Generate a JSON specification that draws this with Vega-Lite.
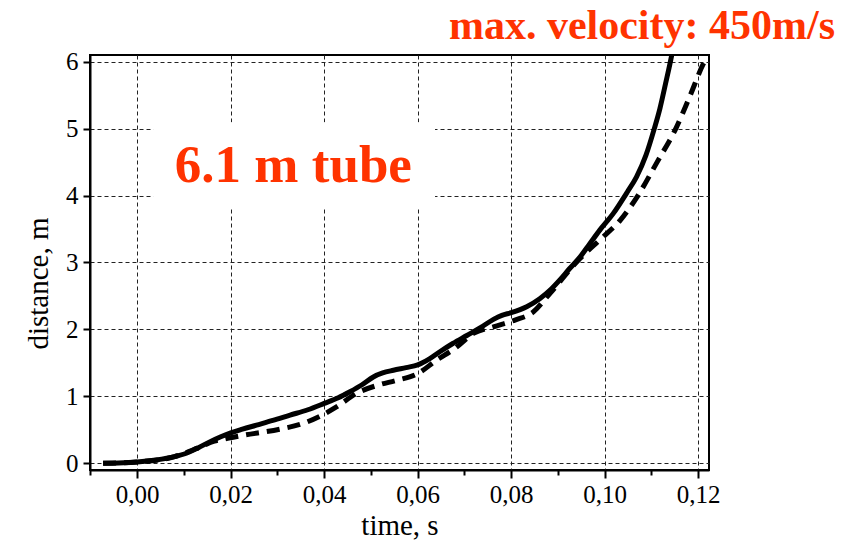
{
  "$schema": "https://vega.github.io/schema/vega-lite/v6.json",
  "width": 619,
  "height": 415,
  "autosize": {"type": "none"},
  "padding": {"left": 90, "top": 55, "right": 135, "bottom": 71},
  "background": "white",
  "config": {
    "view": {"stroke": "black", "strokeWidth": 2},
    "font": "Liberation Serif"
  },
  "title": {
    "text": "max. velocity: 450m/s",
    "anchor": "end",
    "frame": "group",
    "dx": 126,
    "baseline": "alphabetic",
    "offset": -31,
    "font": "Liberation Serif",
    "fontSize": 42,
    "fontWeight": "bold",
    "color": "#FF3300"
  },
  "datasets": {
    "runs": [
      {"t": -0.0073, "d": 0.0, "run": "solid"},
      {"t": -0.004, "d": 0.005, "run": "solid"},
      {"t": 0.0, "d": 0.02, "run": "solid"},
      {"t": 0.004, "d": 0.05, "run": "solid"},
      {"t": 0.008, "d": 0.1, "run": "solid"},
      {"t": 0.0105, "d": 0.15, "run": "solid"},
      {"t": 0.013, "d": 0.23, "run": "solid"},
      {"t": 0.0155, "d": 0.32, "run": "solid"},
      {"t": 0.018, "d": 0.4, "run": "solid"},
      {"t": 0.02, "d": 0.455, "run": "solid"},
      {"t": 0.0225, "d": 0.51, "run": "solid"},
      {"t": 0.0255, "d": 0.57, "run": "solid"},
      {"t": 0.029, "d": 0.64, "run": "solid"},
      {"t": 0.0327, "d": 0.72, "run": "solid"},
      {"t": 0.0365, "d": 0.8, "run": "solid"},
      {"t": 0.04, "d": 0.895, "run": "solid"},
      {"t": 0.043, "d": 0.98, "run": "solid"},
      {"t": 0.0455, "d": 1.07, "run": "solid"},
      {"t": 0.048, "d": 1.17, "run": "solid"},
      {"t": 0.0505, "d": 1.29, "run": "solid"},
      {"t": 0.0525, "d": 1.35, "run": "solid"},
      {"t": 0.0548, "d": 1.39, "run": "solid"},
      {"t": 0.0575, "d": 1.43, "run": "solid"},
      {"t": 0.06, "d": 1.47, "run": "solid"},
      {"t": 0.0625, "d": 1.56, "run": "solid"},
      {"t": 0.0648, "d": 1.67, "run": "solid"},
      {"t": 0.0675, "d": 1.79, "run": "solid"},
      {"t": 0.0705, "d": 1.91, "run": "solid"},
      {"t": 0.0735, "d": 2.03, "run": "solid"},
      {"t": 0.0762, "d": 2.15, "run": "solid"},
      {"t": 0.078, "d": 2.21, "run": "solid"},
      {"t": 0.08, "d": 2.25, "run": "solid"},
      {"t": 0.0833, "d": 2.34, "run": "solid"},
      {"t": 0.0861, "d": 2.46, "run": "solid"},
      {"t": 0.0885, "d": 2.6, "run": "solid"},
      {"t": 0.0904, "d": 2.74, "run": "solid"},
      {"t": 0.0925, "d": 2.91, "run": "solid"},
      {"t": 0.0947, "d": 3.08, "run": "solid"},
      {"t": 0.0968, "d": 3.28, "run": "solid"},
      {"t": 0.0989, "d": 3.48, "run": "solid"},
      {"t": 0.1018, "d": 3.73, "run": "solid"},
      {"t": 0.1048, "d": 4.05, "run": "solid"},
      {"t": 0.1068, "d": 4.28, "run": "solid"},
      {"t": 0.1088, "d": 4.6, "run": "solid"},
      {"t": 0.1106, "d": 5.0, "run": "solid"},
      {"t": 0.1118, "d": 5.3, "run": "solid"},
      {"t": 0.113, "d": 5.67, "run": "solid"},
      {"t": 0.1143, "d": 6.09, "run": "solid"},
      {"t": 0.1146, "d": 6.2, "run": "solid"},

      {"t": -0.0073, "d": 0.0, "run": "dashed"},
      {"t": 0.0, "d": 0.02, "run": "dashed"},
      {"t": 0.008, "d": 0.1, "run": "dashed"},
      {"t": 0.013, "d": 0.23, "run": "dashed"},
      {"t": 0.0165, "d": 0.33, "run": "dashed"},
      {"t": 0.0177, "d": 0.35, "run": "dashed"},
      {"t": 0.022, "d": 0.41, "run": "dashed"},
      {"t": 0.0305, "d": 0.51, "run": "dashed"},
      {"t": 0.0348, "d": 0.58, "run": "dashed"},
      {"t": 0.039, "d": 0.7, "run": "dashed"},
      {"t": 0.0427, "d": 0.845, "run": "dashed"},
      {"t": 0.0469, "d": 1.045, "run": "dashed"},
      {"t": 0.0516, "d": 1.17, "run": "dashed"},
      {"t": 0.0555, "d": 1.24, "run": "dashed"},
      {"t": 0.06, "d": 1.34, "run": "dashed"},
      {"t": 0.064, "d": 1.54, "run": "dashed"},
      {"t": 0.068, "d": 1.72, "run": "dashed"},
      {"t": 0.0719, "d": 1.94, "run": "dashed"},
      {"t": 0.0762, "d": 2.04, "run": "dashed"},
      {"t": 0.0808, "d": 2.14, "run": "dashed"},
      {"t": 0.0847, "d": 2.26, "run": "dashed"},
      {"t": 0.0883, "d": 2.54, "run": "dashed"},
      {"t": 0.0947, "d": 3.06, "run": "dashed"},
      {"t": 0.0993, "d": 3.36, "run": "dashed"},
      {"t": 0.1033, "d": 3.63, "run": "dashed"},
      {"t": 0.1071, "d": 4.0, "run": "dashed"},
      {"t": 0.1112, "d": 4.5, "run": "dashed"},
      {"t": 0.1152, "d": 5.0, "run": "dashed"},
      {"t": 0.1183, "d": 5.5, "run": "dashed"},
      {"t": 0.1211, "d": 5.97, "run": "dashed"},
      {"t": 0.1217, "d": 6.05, "run": "dashed"}
    ]
  },
  "layer": [
    {
      "data": {"values": [{}]},
      "mark": {"type": "rect", "color": "white"},
      "encoding": {
        "x": {"datum": 0.0034, "type": "quantitative"},
        "x2": {"datum": 0.0637},
        "y": {"datum": 5.094, "type": "quantitative"},
        "y2": {"datum": 3.81}
      }
    },
    {
      "data": {"name": "runs"},
      "transform": [{"filter": "datum.run === 'dashed'"}],
      "mark": {"type": "line", "interpolate": "monotone", "clip": true, "color": "black", "strokeWidth": 5, "strokeDash": [13, 8], "strokeCap": "butt"},
      "encoding": {
        "x": {"field": "t", "type": "quantitative"},
        "y": {"field": "d", "type": "quantitative"}
      }
    },
    {
      "data": {"name": "runs"},
      "transform": [{"filter": "datum.run === 'solid'"}],
      "mark": {"type": "line", "interpolate": "monotone", "clip": true, "color": "black", "strokeWidth": 5},
      "encoding": {
        "x": {
          "field": "t",
          "type": "quantitative",
          "scale": {"domain": [-0.0101, 0.1223], "nice": false, "zero": false},
          "axis": {
            "title": "time, s",
            "values": [-0.01, 0, 0.01, 0.02, 0.03, 0.04, 0.05, 0.06, 0.07, 0.08, 0.09, 0.1, 0.11, 0.12],
            "labelExpr": "abs(round(datum.value * 100)) % 2 == 1 ? '' : replace(format(datum.value, '.2f'), '.', ',')",
            "labelFont": "Liberation Serif",
            "labelFontSize": 25,
            "labelColor": "black",
            "labelPadding": 4,
            "labelFlush": false,
            "labelOverlap": false,
            "tickColor": "black",
            "tickWidth": 2,
            "tickSize": 8,
            "tickDash": {"condition": {"test": "abs(round(datum.value * 100)) % 2 == 1", "value": [5, 50]}, "value": []},
            "domainColor": "black",
            "domainWidth": 2,
            "grid": true,
            "gridColor": "#222",
            "gridDash": [4, 3],
            "gridWidth": 1,
            "gridOpacity": {"condition": {"test": "abs(round(datum.value * 100)) % 2 == 1", "value": 0}, "value": 1},
            "titleFont": "Liberation Serif",
            "titleFontSize": 29,
            "titleFontWeight": "normal",
            "titleColor": "black",
            "titleBaseline": "alphabetic",
            "titleY": 64
          }
        },
        "y": {
          "field": "d",
          "type": "quantitative",
          "scale": {"domain": [-0.1, 6.1], "nice": false, "zero": false},
          "axis": {
            "title": "distance, m",
            "values": [0, 0.5, 1, 1.5, 2, 2.5, 3, 3.5, 4, 4.5, 5, 5.5, 6],
            "labelExpr": "round(datum.value * 2) % 2 == 1 ? '' : format(datum.value, 'd')",
            "labelFont": "Liberation Serif",
            "labelFontSize": 25,
            "labelColor": "black",
            "labelPadding": 5,
            "labelFlush": false,
            "labelOverlap": false,
            "tickColor": "black",
            "tickWidth": 2,
            "tickSize": 7,
            "tickDash": {"condition": {"test": "round(datum.value * 2) % 2 == 1", "value": [4, 50]}, "value": []},
            "domainColor": "black",
            "domainWidth": 2,
            "grid": true,
            "gridColor": "#222",
            "gridDash": [4, 3],
            "gridWidth": 1,
            "gridOpacity": {"condition": {"test": "round(datum.value * 2) % 2 == 1", "value": 0}, "value": 1},
            "titleFont": "Liberation Serif",
            "titleFontSize": 29,
            "titleFontWeight": "normal",
            "titleColor": "black",
            "titleBaseline": "alphabetic",
            "titleAngle": -90,
            "titleX": -43,
            "titleY": 228
          }
        }
      }
    },
    {
      "data": {"values": [{}]},
      "mark": {"type": "text", "text": "6.1 m tube", "font": "Liberation Serif", "fontSize": 53, "fontWeight": "bold", "color": "#FF3300", "align": "center", "baseline": "alphabetic"},
      "encoding": {
        "x": {"datum": 0.0334, "type": "quantitative"},
        "y": {"datum": 4.2, "type": "quantitative"}
      }
    }
  ]
}
